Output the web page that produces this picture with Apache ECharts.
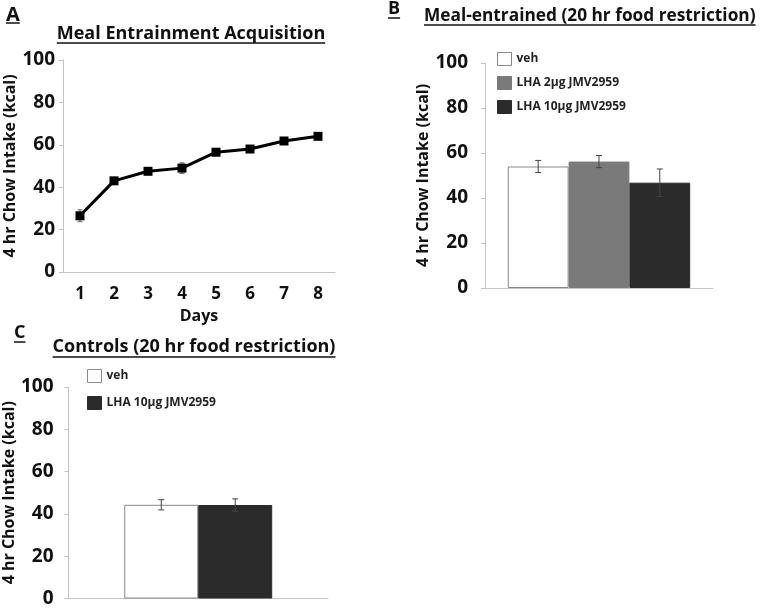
<!DOCTYPE html>
<html>
<head>
<meta charset="utf-8">
<script src="https://cdn.jsdelivr.net/npm/echarts@6/dist/echarts.min.js"></script>
<style>
  html, body { margin: 0; padding: 0; background: #fff; }
  #chart { width: 767px; height: 608px; }
</style>
</head>
<body>
<div id="chart"></div>
<script>
// data
const days = ['1', '2', '3', '4', '5', '6', '7', '8'];
const acqMean = [26.5, 43, 47.5, 49, 56.5, 58, 61.8, 64];
const acqErr = [2.8, 1.2, 1.2, 2.5, 1.2, 1.5, 1.2, 1.0];

const groupsB = ['veh', 'LHA 2μg JMV2959', 'LHA 10μg JMV2959'];
const meanB = [54, 56.2, 46.8];
const errB = [2.7, 2.7, 6.1];

const groupsC = ['veh', 'LHA 10μg JMV2959'];
const meanC = [44.3, 44.2];
const errC = [2.4, 2.9];

const yMin = 0, yMax = 100, yStep = 20;

const FONT = '"Open Sans", "DejaVu Sans", sans-serif';
const colors = {
  'veh': '#ffffff',
  'LHA 2μg JMV2959': '#7a7a7a',
  'LHA 10μg JMV2959': '#2b2b2b'
};
const axisGray = '#c4c4c4';

const chart = echarts.init(document.getElementById('chart'));

// measure text so the underlines fit the titles
const ctx = document.createElement('canvas').getContext('2d');
const textW = (txt, size) => {
  ctx.font = 'bold ' + size + 'px ' + FONT;
  return ctx.measureText(txt).width;
};

const titleText = (txt, x, y, size, align, underlineY) => {
  const w = textW(txt, size);
  const x0 = align === 'center' ? x - w / 2 : x;
  return [
    {
      type: 'text',
      style: {
        text: txt, x: x, y: y, fill: '#111',
        font: 'bold ' + size + 'px ' + FONT,
        align: align, verticalAlign: 'middle'
      }
    },
    {
      type: 'line',
      shape: { x1: x0, y1: underlineY, x2: x0 + w, y2: underlineY },
      style: { stroke: '#111', lineWidth: 1.5 }
    }
  ];
};

const yAxisCommon = (gridIndex, gap, labelMargin) => ({
  type: 'value',
  gridIndex: gridIndex,
  min: yMin, max: yMax, interval: yStep,
  name: '4 hr Chow Intake (kcal)',
  nameLocation: 'middle',
  nameGap: gap,
  nameTextStyle: { fontFamily: FONT, fontWeight: 'bold', fontSize: 16, color: '#111' },
  axisLine: { show: true, lineStyle: { color: axisGray } },
  axisTick: { show: true, length: 4, lineStyle: { color: axisGray } },
  splitLine: { show: false },
  axisLabel: { fontFamily: FONT, fontWeight: 'bold', fontSize: 19, color: '#111', margin: labelMargin }
});

// error bars drawn in the chart's own coordinates
const errorSeries = (xIdx, yIdx, means, errs, slot, nSlots, gap, color, cap, z) => ({
  type: 'custom',
  xAxisIndex: xIdx,
  yAxisIndex: yIdx,
  z: z,
  silent: true,
  data: means.map((m, i) => [i, m, errs[i]]),
  renderItem: (params, api) => {
    const cat = api.value(0), m = api.value(1), e = api.value(2);
    const band = api.size([1, 0])[0];
    const barW = band * (1 - gap) / nSlots;
    const off = (slot - (nSlots - 1) / 2) * barW;
    const hi = api.coord([cat, m + e]);
    const lo = api.coord([cat, m - e]);
    const x = hi[0] + off;
    const st = { stroke: color, lineWidth: 1 };
    return {
      type: 'group',
      children: [
        { type: 'line', shape: { x1: x, y1: hi[1], x2: x, y2: lo[1] }, style: st },
        { type: 'line', shape: { x1: x - cap, y1: hi[1], x2: x + cap, y2: hi[1] }, style: st },
        { type: 'line', shape: { x1: x - cap, y1: lo[1], x2: x + cap, y2: lo[1] }, style: st }
      ]
    };
  }
});

const gapB = 0.2, gapC = 0.43;

const barSeries = (name, value, xIdx, yIdx, gap) => ({
  name: name,
  type: 'bar',
  xAxisIndex: xIdx,
  yAxisIndex: yIdx,
  data: [value],
  barGap: '0%',
  barCategoryGap: (gap * 100) + '%',
  itemStyle: {
    color: colors[name],
    borderColor: name === 'veh' ? '#888' : colors[name],
    borderWidth: 1
  }
});

const legendCommon = {
  orient: 'vertical',
  icon: 'rect',
  itemWidth: 14,
  itemHeight: 13,
  itemStyle: { borderWidth: 1 },
  textStyle: { fontFamily: FONT, fontWeight: 'bold', fontSize: 12, color: '#222' },
  selectedMode: false
};

const option = {
  backgroundColor: '#fff',
  animation: false,
  grid: [
    { left: 63, top: 60, width: 272, height: 212 },
    { left: 485, top: 63, width: 228, height: 225 },
    { left: 68, top: 387, width: 260, height: 212 }
  ],
  xAxis: [
    {
      type: 'category', gridIndex: 0, data: days,
      name: 'Days', nameLocation: 'middle', nameGap: 36,
      nameTextStyle: { fontFamily: FONT, fontWeight: 'bold', fontSize: 16, color: '#111' },
      axisLine: { lineStyle: { color: axisGray } },
      axisTick: { alignWithLabel: true, length: 5, lineStyle: { color: axisGray } },
      axisLabel: { fontFamily: FONT, fontWeight: 'bold', fontSize: 17, color: '#111', margin: 14 }
    },
    {
      type: 'category', gridIndex: 1, data: ['B'],
      axisLine: { lineStyle: { color: axisGray } },
      axisTick: { show: false }, axisLabel: { show: false }
    },
    {
      type: 'category', gridIndex: 2, data: ['C'],
      axisLine: { lineStyle: { color: axisGray } },
      axisTick: { show: false }, axisLabel: { show: false }
    }
  ],
  yAxis: [
    yAxisCommon(0, 43, 8),
    yAxisCommon(1, 50, 17),
    yAxisCommon(2, 50, 15)
  ],
  legend: [
    Object.assign({ left: 492, top: 47, itemGap: 10, data: groupsB }, legendCommon),
    Object.assign({ left: 82, top: 364, itemGap: 13, data: groupsC }, legendCommon)
  ],
  series: [
    {
      name: 'Acquisition',
      type: 'line',
      xAxisIndex: 0, yAxisIndex: 0,
      data: acqMean,
      symbol: 'rect', symbolSize: 9,
      lineStyle: { color: '#000', width: 3 },
      itemStyle: { color: '#000' },
      z: 3
    },
    errorSeries(0, 0, acqMean, acqErr, 0, 1, 0, '#666', 2.5, 1),
    ...groupsB.map((g, i) => barSeries(g, meanB[i], 1, 1, gapB)),
    ...groupsB.map((g, i) => errorSeries(1, 1, [meanB[i]], [errB[i]], i, groupsB.length, gapB, '#444', 3, 5)),
    ...groupsC.map((g, i) => barSeries(g, meanC[i], 2, 2, gapC)),
    ...groupsC.map((g, i) => errorSeries(2, 2, [meanC[i]], [errC[i]], i, groupsC.length, gapC, '#444', 3, 5))
  ],
  graphic: [
    ...titleText('A', 6, 15, 20, 'left', 23),
    ...titleText('Meal Entrainment Acquisition', 191, 34, 18, 'center', 43),
    ...titleText('B', 388, 9, 18, 'left', 18),
    ...titleText('Meal-entrained (20 hr food restriction)', 424, 16, 17.3, 'left', 25),
    ...titleText('C', 14, 333, 18, 'left', 342),
    ...titleText('Controls (20 hr food restriction)', 194, 347, 18, 'center', 357)
  ]
};

chart.setOption(option);
</script>
</body>
</html>
